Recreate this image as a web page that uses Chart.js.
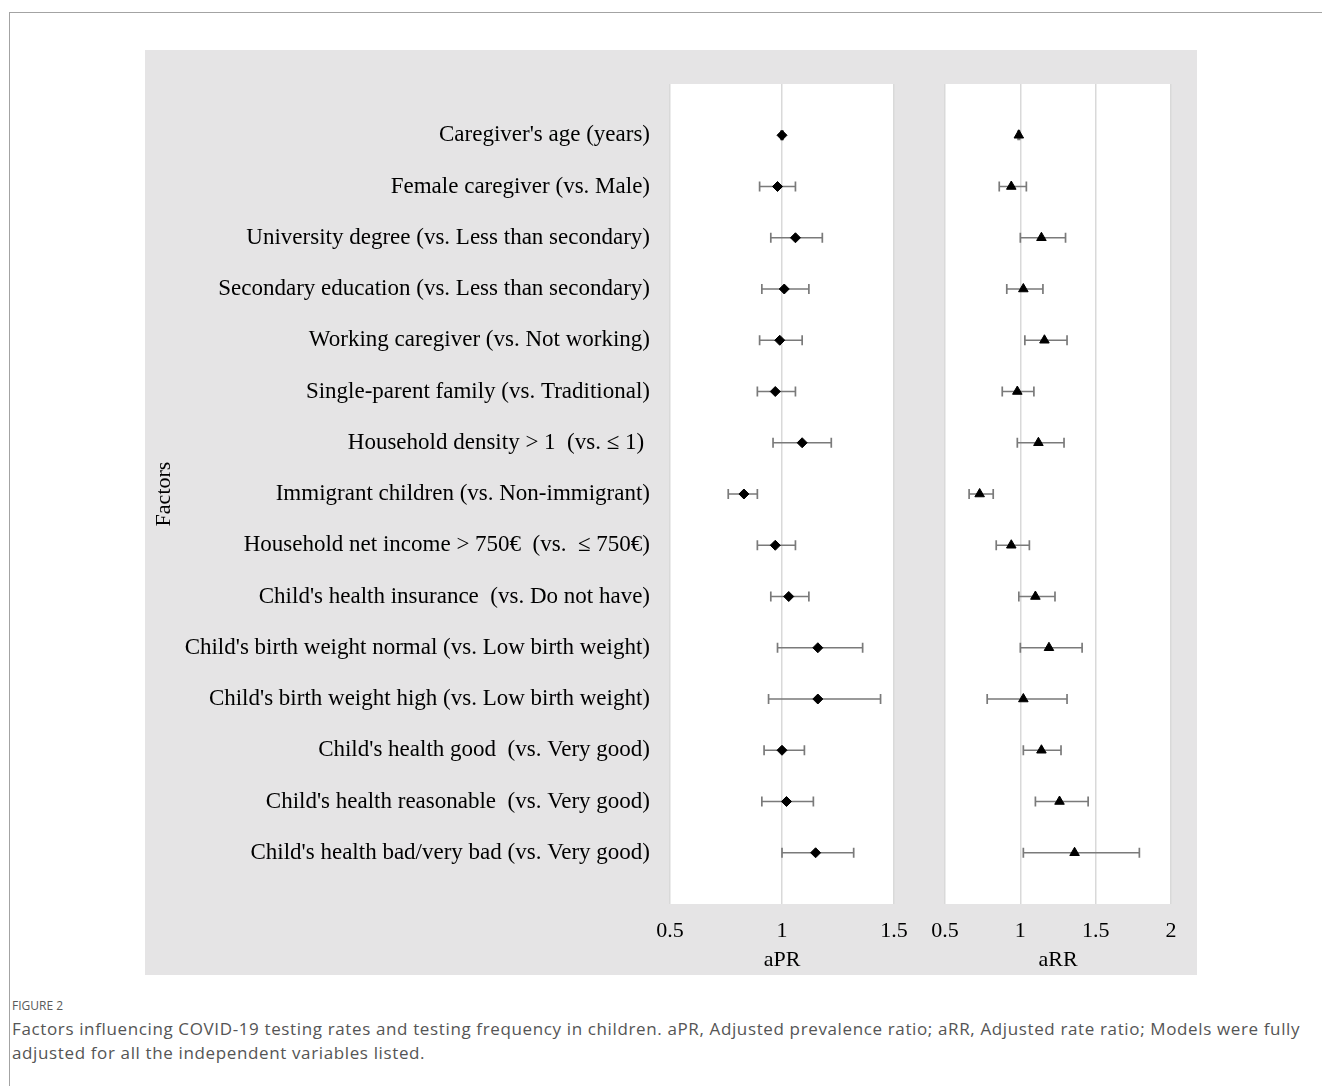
<!DOCTYPE html>
<html>
<head>
<meta charset="utf-8">
<script src="https://cdn.jsdelivr.net/npm/chart.js@4.4.1/dist/chart.umd.min.js"></script>
<style>
  html, body { margin: 0; padding: 0; background: #fff; width: 1322px; height: 1086px; overflow: hidden; }
  .frame { position: absolute; left: 9px; top: 12px; width: 1400px; height: 1200px;
           border-left: 1px solid #a3a3a3; border-top: 1px solid #a3a3a3; }
  .panel { position: absolute; left: 145px; top: 50px; width: 1052px; height: 925px; background: #e5e4e5; }
  .panel canvas { position: absolute; left: 0; top: 0; }
  .fig { position: absolute; left: 12px; top: 998px; font-family: 'Open Sans', sans-serif;
         font-size: 12px; line-height: 16px; color: #5a5a5a; }
  .cap { position: absolute; left: 12px; top: 1017px; font-family: 'Open Sans', sans-serif;
         font-size: 17px; line-height: 24px; letter-spacing: 0.63px; color: #555; white-space: nowrap; }
</style>
</head>
<body>
<div class="frame"></div>
<div class="panel">
  <canvas id="aprChart" width="1052" height="925"></canvas>
  <canvas id="arrChart" width="1052" height="925"></canvas>
</div>
<div class="fig">FIGURE 2</div>
<div class="cap">Factors influencing COVID-19 testing rates and testing frequency in children. aPR, Adjusted prevalence ratio; aRR, Adjusted rate ratio; Models were fully<br>adjusted for all the independent variables listed.</div>

<script>
// Factors (top to bottom)
const factors = [
  "Caregiver's age (years)",
  "Female caregiver (vs. Male)",
  "University degree (vs. Less than secondary)",
  "Secondary education (vs. Less than secondary)",
  "Working caregiver (vs. Not working)",
  "Single-parent family (vs. Traditional)",
  "Household density > 1  (vs. \u2264 1) ",
  "Immigrant children (vs. Non-immigrant)",
  "Household net income > 750\u20ac  (vs.  \u2264 750\u20ac)",
  "Child's health insurance  (vs. Do not have)",
  "Child's birth weight normal (vs. Low birth weight)",
  "Child's birth weight high (vs. Low birth weight)",
  "Child's health good  (vs. Very good)",
  "Child's health reasonable  (vs. Very good)",
  "Child's health bad/very bad (vs. Very good)"
];

// Adjusted prevalence ratio with 95% CI
const aprEst  = [1.00, 0.98, 1.06, 1.01, 0.99, 0.97, 1.09, 0.83, 0.97, 1.03, 1.16, 1.16, 1.00, 1.02, 1.15];
const aprLow  = [0.995, 0.90, 0.95, 0.91, 0.90, 0.89, 0.96, 0.76, 0.89, 0.95, 0.98, 0.94, 0.92, 0.91, 1.00];
const aprHigh = [1.005, 1.06, 1.18, 1.12, 1.09, 1.06, 1.22, 0.89, 1.06, 1.12, 1.36, 1.44, 1.10, 1.14, 1.32];

// Adjusted rate ratio with 95% CI
const arrEst  = [0.99, 0.94, 1.14, 1.02, 1.16, 0.98, 1.12, 0.73, 0.94, 1.10, 1.19, 1.02, 1.14, 1.26, 1.36];
const arrLow  = [0.985, 0.86, 1.00, 0.91, 1.03, 0.88, 0.98, 0.66, 0.84, 0.99, 1.00, 0.78, 1.02, 1.10, 1.02];
const arrHigh = [0.995, 1.04, 1.30, 1.15, 1.31, 1.09, 1.29, 0.82, 1.06, 1.23, 1.41, 1.31, 1.27, 1.45, 1.79];

// Tick values and their labels
const aprTicks = [0.5, 1, 1.5];
const arrTicks = [0.5, 1, 1.5, 2];
const tickText = v => String(v);

const serif = 'Liberation Serif';

// White plotting area over the grey panel
const plotBg = {
  id: 'plotBg',
  beforeDraw(chart) {
    const { ctx, chartArea: a } = chart;
    ctx.save();
    ctx.fillStyle = '#ffffff';
    ctx.fillRect(a.left, a.top, a.right - a.left, a.bottom - a.top);
    ctx.restore();
  }
};

function estimatePoints(est) {
  return est.map((v, i) => ({ x: v, y: i + 1 }));
}

// Whisker segments, separated by empty points so each row is its own segment
function intervalPoints(lo, hi) {
  const pts = [];
  lo.forEach((l, i) => {
    pts.push({ x: l, y: i + 1 }, { x: hi[i], y: i + 1 }, { x: null, y: null });
  });
  return pts;
}

function datasets(est, lo, hi, marker, radius) {
  return [
    {
      data: estimatePoints(est),
      pointStyle: marker,
      pointRadius: radius,
      pointBackgroundColor: '#000',
      pointBorderColor: '#000',
      pointBorderWidth: 1,
      showLine: false
    },
    {
      data: intervalPoints(lo, hi),
      showLine: true,
      spanGaps: false,
      borderColor: '#7a7a7a',
      borderWidth: 1.7,
      pointStyle: 'line',
      pointRotation: 90,
      pointRadius: 5,
      pointBorderColor: '#7a7a7a',
      pointBorderWidth: 1.7
    }
  ];
}

function xScale(min, max, ticks, title) {
  return {
    type: 'linear',
    min: min,
    max: max,
    afterBuildTicks: s => { s.ticks = ticks.map(v => ({ value: v })); },
    afterFit: s => { s.height = 71; },
    grid: { color: '#d9d9d9', lineWidth: 1.5, drawTicks: false },
    border: { display: false },
    ticks: { padding: 14, color: '#000', font: { family: serif, size: 22 }, callback: tickText },
    title: { display: true, text: title, color: '#000', font: { family: serif, size: 22 },
             padding: { top: 0, bottom: 2 } }
  };
}

const common = {
  responsive: false,
  animation: false,
  events: [],
  plugins: { legend: { display: false }, tooltip: { enabled: false } }
};

new Chart(document.getElementById('aprChart'), {
  type: 'scatter',
  data: { datasets: datasets(aprEst, aprLow, aprHigh, 'rectRot', 5) },
  plugins: [plotBg],
  options: Object.assign({}, common, {
    layout: { padding: { left: 0, top: 34, right: 303, bottom: 0 } },
    scales: {
      x: xScale(0.5, 1.5, aprTicks, 'aPR'),
      y: {
        type: 'linear',
        min: 0,
        max: 16,
        reverse: true,
        afterBuildTicks: s => { s.ticks = factors.map((f, i) => ({ value: i + 1 })); },
        afterFit: s => { s.width = 525; },
        grid: { display: false, drawTicks: false },
        border: { display: false },
        ticks: {
          padding: 20,
          color: '#000',
          font: { family: serif, size: 23 },
          callback: v => factors[v - 1] || ''
        },
        title: { display: true, text: 'Factors', color: '#000', font: { family: serif, size: 22 },
                 padding: { top: 6, bottom: 0 } }
      }
    }
  })
});

new Chart(document.getElementById('arrChart'), {
  type: 'scatter',
  data: { datasets: datasets(arrEst, arrLow, arrHigh, 'triangle', 5.5) },
  plugins: [plotBg],
  options: Object.assign({}, common, {
    layout: { padding: { left: 800, top: 34, right: 26, bottom: 0 } },
    scales: {
      x: xScale(0.5, 2, arrTicks, 'aRR'),
      y: { type: 'linear', min: 0, max: 16, reverse: true, display: false }
    }
  })
});
</script>
</body>
</html>
